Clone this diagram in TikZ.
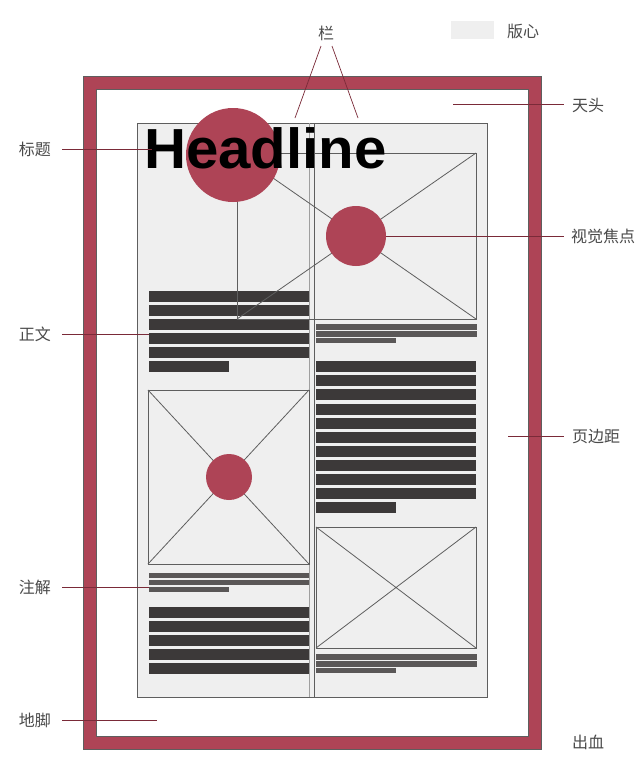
\documentclass[tikz,border=0pt]{standalone}
\usepackage{fontspec}
\setmainfont{Liberation Sans}
\newfontfamily\cjk{Noto Sans CJK SC}
\definecolor{brand}{HTML}{AE4456}
\definecolor{leader}{HTML}{7A2A38}
\definecolor{bar}{HTML}{3C3939}
\definecolor{capbar}{HTML}{5A5757}
\definecolor{paper}{HTML}{EFEFEF}
\definecolor{edge}{HTML}{5E5E5E}
\definecolor{lbl}{HTML}{4A4A4A}
\tikzset{
  lab/.style={font=\cjk\fontsize{16}{16}\selectfont, text=lbl, inner sep=0pt},
  leaderline/.style={draw=leader, line width=0.9pt},
  bodybar/.style={fill=bar},
  capline/.style={fill=capbar},
  imgbox/.style={draw=edge, line width=0.8pt},
  dot/.style={fill=brand},
}
\begin{document}
\begin{tikzpicture}[x=1pt,y=-1pt]
\useasboundingbox (0,0) rectangle (644,780);
\fill[white] (0,0) rectangle (644,780);

% page with bleed frame
\fill[brand] (83,76) rectangle (541,749);
\fill[white] (96,89) rectangle (528,736);
\draw[edge, line width=0.6pt] (83,76) rectangle (541,749);
\draw[edge, line width=0.6pt] (96,89) rectangle (528,736);

% type area
\draw[edge, fill=paper, line width=0.8pt] (137,123) rectangle (487,697);
\draw[gray!75, line width=0.8pt] (309,123) -- (309,697);
\draw[edge, line width=0.9pt] (314,123) -- (314,697);

% left column body text
\foreach \y in {291,305,319,333,347} \fill[bodybar] (149,\y) rectangle (309,\y+10.5);
\fill[bodybar] (149,361) rectangle (229,371.5);

% left caption
\foreach \y in {573,580} \fill[capline] (149,\y) rectangle (309,\y+5);
\fill[capline] (149,587) rectangle (229,592);

% left lower body text
\foreach \y in {607,621,635,649,663} \fill[bodybar] (149,\y) rectangle (309,\y+10.5);

% right caption under top image
\foreach \y in {324,331} \fill[capline] (316,\y) rectangle (477,\y+5.5);
\fill[capline] (316,338) rectangle (396,343);

% right body text
\foreach \y in {361,375,389,404,418,432,446,460,474,488} \fill[bodybar] (316,\y) rectangle (476,\y+10.5);
\fill[bodybar] (316,502) rectangle (396,512.5);

% right caption under bottom image
\foreach \y in {654,661} \fill[capline] (316,\y) rectangle (477,\y+5.5);
\fill[capline] (316,668) rectangle (396,673);

% focus frame (spans both columns)
\draw[imgbox] (237,153) rectangle (476,319);
\draw[imgbox] (237,153) -- (476,319) (237,319) -- (476,153);

% left image
\draw[imgbox] (148,390) rectangle (309,564);
\draw[imgbox] (148,390) -- (309,564) (148,564) -- (309,390);

% right bottom image
\draw[imgbox] (316,527) rectangle (476,648);
\draw[imgbox] (316,527) -- (476,648) (316,648) -- (476,527);

% red circles
\node[dot, circle, minimum size=94pt, inner sep=0pt] (bigdot) at (233,155) {};
\node[dot, circle, minimum size=60pt, inner sep=0pt] (focus) at (356,236) {};
\node[dot, circle, minimum size=46pt, inner sep=0pt] (imgdot) at (229,477) {};

% headline
\node[anchor=base west, inner sep=0pt, xscale=1.03, font=\bfseries\fontsize{56.5}{56.5}\selectfont] (headline) at (144,168) {Headline};

% legend
\node[fill=paper, minimum width=43pt, minimum height=18pt, inner sep=0pt] (legendbox) at (472.5,30) {};
\node[lab, anchor=west] (legendtext) at (507,31) {版心};

% labels left
\node[lab, anchor=east] (title) at (51,149) {标题};
\node[lab, anchor=east] (body) at (51,334) {正文};
\node[lab, anchor=east] (caption) at (51,587) {注解};
\node[lab, anchor=east] (footer) at (51,720) {地脚};
\coordinate (titleStart) at (62,149);
\coordinate (bodyStart) at (62,334);
\coordinate (captionStart) at (62,587);
\coordinate (footerStart) at (62,720);
\coordinate (titleEnd) at (152,149);
\coordinate (bodyEnd) at (149,334);
\coordinate (captionEnd) at (149,587);
\coordinate (footerEnd) at (157,720);
\draw[leaderline] (titleStart) -- (titleEnd);
\draw[leaderline] (bodyStart) -- (bodyEnd);
\draw[leaderline] (captionStart) -- (captionEnd);
\draw[leaderline] (footerStart) -- (footerEnd);

% labels right
\node[lab, anchor=west] (head) at (572,105) {天头};
\node[lab, anchor=west] (focuslabel) at (571,236) {视觉焦点};
\node[lab, anchor=west] (margin) at (572,437) {页边距};
\node[lab, anchor=west] (bleed) at (572,742) {出血};
\coordinate (headStart) at (453,104);
\coordinate (headEnd) at (564,104);
\coordinate (focusEnd) at (564,236);
\coordinate (marginStart) at (508,436);
\coordinate (marginEnd) at (564,436);
\draw[leaderline] (headStart) -- (headEnd);
\draw[leaderline] (focus.east) -- (focusEnd);
\draw[leaderline] (marginStart) -- (marginEnd);

% column label
\node[lab] (column) at (326,33) {栏};
\coordinate (colStartA) at (321,46);
\coordinate (colStartB) at (332,46);
\coordinate (colA) at (295,118);
\coordinate (colB) at (358,118);
\draw[leaderline, line width=0.7pt] (colStartA) -- (colA);
\draw[leaderline, line width=0.7pt] (colStartB) -- (colB);
\end{tikzpicture}
\end{document}
